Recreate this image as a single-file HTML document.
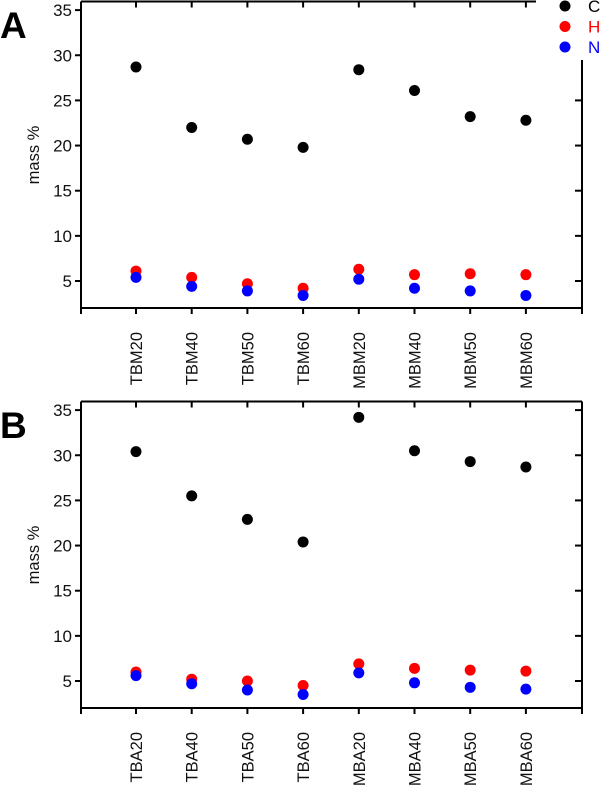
<!DOCTYPE html>
<html><head><meta charset="utf-8"><style>
body{margin:0;background:#fff;width:601px;height:786px;overflow:hidden}
svg{font-family:"Liberation Sans",Arial,sans-serif}
</style></head><body>
<svg id="chart" width="601" height="786"></svg>
<script>
const catsA=["TBM20","TBM40","TBM50","TBM60","MBM20","MBM40","MBM50","MBM60"];
const catsB=["TBA20","TBA40","TBA50","TBA60","MBA20","MBA40","MBA50","MBA60"];
const cA=[28.7,22.0,20.7,19.8,28.4,26.1,23.2,22.8];
const hA=[6.1,5.4,4.7,4.2,6.3,5.7,5.8,5.7];
const nA=[5.4,4.4,3.9,3.4,5.2,4.2,3.9,3.4];
const cB=[30.4,25.5,22.9,20.4,34.2,30.5,29.3,28.7];
const hB=[6.0,5.2,5.0,4.5,6.9,6.4,6.2,6.1];
const nB=[5.6,4.7,4.0,3.5,5.9,4.8,4.3,4.1];
const yTicks=[5,10,15,20,25,30,35];
const seriesNames=["C","H","N"];
const seriesColors=["#000","#f00","#00f"];
const NS="http://www.w3.org/2000/svg";
const svg=document.getElementById('chart');
function el(t,a,p){const e=document.createElementNS(NS,t);for(const k in a)e.setAttribute(k,a[k]);(p||svg).appendChild(e);return e;}
const L=81,R=582,x0=136,dx=55.7;
function xs(i){return x0+i*dx;}
function panel(oy,cats,data,letter,legend){
  const g=el('g',{});
  
  
  const top=oy+1.5,bot=oy+308;
  function ys(v){return oy+281-(v-5)*9.03;}
  const topEnd=legend?536:R, rightStart=legend?oy+60:top;
  el('line',{x1:L,y1:top,x2:topEnd,y2:top,stroke:'#000','stroke-width':2},g);
  el('line',{x1:L,y1:top,x2:L,y2:bot,stroke:'#000','stroke-width':2},g);
  el('line',{x1:L,y1:bot,x2:R,y2:bot,stroke:'#000','stroke-width':2},g);
  el('line',{x1:R,y1:rightStart,x2:R,y2:bot,stroke:'#000','stroke-width':2},g);
  [L,R].forEach(x=>el('line',{x1:x,y1:bot,x2:x,y2:bot+6,stroke:'#000','stroke-width':2},g));
  yTicks.forEach(v=>{
    const y=ys(v);
    el('line',{x1:L-6,y1:y,x2:L,y2:y,stroke:'#000','stroke-width':2},g);
    if(y>rightStart) el('line',{x1:R-7,y1:y,x2:R,y2:y,stroke:'#000','stroke-width':2},g);
    const t=el('text',{x:L-9,y:y+6,'text-anchor':'end','font-size':17,fill:'#111'},g);
    
    
    t.textContent=v;
  });
  cats.forEach((c,i)=>{
    const x=xs(i);
    el('line',{x1:x,y1:bot,x2:x,y2:bot+6,stroke:'#000','stroke-width':2},g);
    if(x<topEnd) el('line',{x1:x,y1:top,x2:x,y2:top+6,stroke:'#000','stroke-width':2},g);
    const t=el('text',{x:0,y:0,'text-anchor':'end','font-size':16.5,fill:'#111',transform:`translate(${x+6},${bot+24}) rotate(-90)`},g);
    
    
    t.textContent=c;
  });
  data.forEach((arr,s)=>{
    arr.forEach((v,i)=>{
      const d=el('circle',{cx:xs(i),cy:ys(v),r:5.5,fill:seriesColors[s]},g);
      
      
    });
  });
  const yl=el('text',{x:0,y:0,'text-anchor':'middle','font-size':16.5,fill:'#111',transform:`translate(39,${oy+155}) rotate(-90)`},g);
  
  
  yl.textContent='mass %';
  const lt=el('text',{x:0,y:oy+38,'font-size':37,'font-weight':'bold',fill:'#000'},g);
  
  
  lt.textContent=letter;
  if(legend){
    seriesNames.forEach((n,s)=>{
      const y=6+s*20.5;
      const c=el('circle',{cx:565,cy:y,r:5.5,fill:seriesColors[s]},g);
      
      
      const t=el('text',{x:588,y:y+6,'font-size':17,fill:seriesColors[s]},g);
      
      
      t.textContent=n;
    });
  }
}
panel(0,catsA,[cA,hA,nA],'A',true);
panel(400,catsB,[cB,hB,nB],'B',false);
</script>
</body></html>
